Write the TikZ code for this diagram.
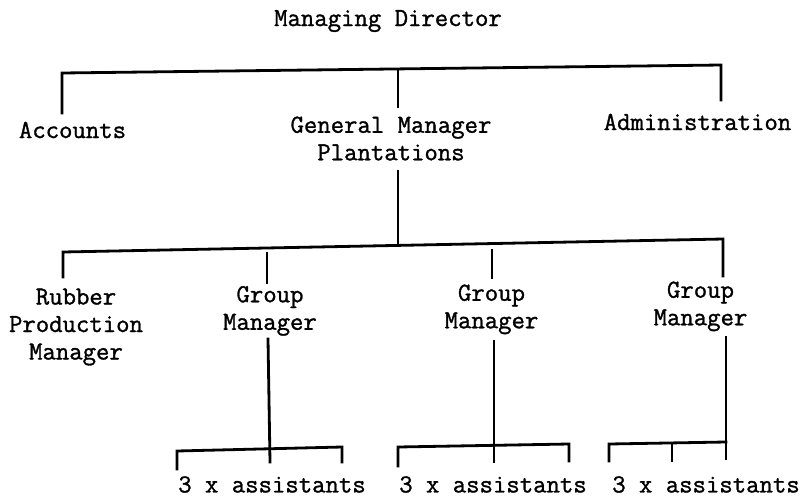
\documentclass[tikz,border=0pt]{standalone}
\usepackage{fontspec}
\newfontfamily\typewr{Latin Modern Mono}[FakeBold=1.2]
\begin{document}
\begin{tikzpicture}[x=1pt,y=-1pt,
  lbl/.style={inner sep=0pt, align=center, font=\typewr\bfseries\fontsize{26}{27.5}\selectfont},
  wire/.style={line width=2.8pt, line cap=rect, line join=miter}]
\useasboundingbox (0,0) rectangle (806,499);

% --- posts ---
\node[lbl] (md)  at (388,20.5)  {Managing Director\strut};
\node[lbl] (acc) at (72.5,132.5) {Accounts\strut};
\node[lbl] (gmp) at (391,141)   {General Manager\strut\\Plantations\strut};
\node[lbl] (adm) at (697.5,124.5) {Administration\strut};
\node[lbl] (rpm) at (76,326.5)  {Rubber\strut\\Production\strut\\Manager\strut};
\node[lbl] (gm1) at (270,310.5) {Group\strut\\Manager\strut};
\node[lbl] (gm2) at (491.5,309) {Group\strut\\Manager\strut};
\node[lbl] (gm3) at (700.5,306) {Group\strut\\Manager\strut};
\node[lbl] (as1) at (272,484.5) {3 x assistants};
\node[lbl] (as2) at (493,484.5) {3 x assistants};
\node[lbl] (as3) at (706,484.5) {3 x assistants};

% --- first level bar ---
\coordinate (ba) at (62,73);   \coordinate (bm) at (398,69);  \coordinate (bc) at (721,65);
\coordinate (accTop) at (62,113); \coordinate (gmpTop) at (398,107); \coordinate (admTop) at (721,100);
\draw[wire] (accTop) -- (ba) -- (bc) -- (admTop);
\draw[wire] (bm) -- (gmpTop);

% --- second level bar ---
\coordinate (gmpFoot) at (398,171); \coordinate (cm) at (398,245.5);
\coordinate (ca) at (63,252);  \coordinate (cd) at (723,239);
\coordinate (rpmTop) at (63,277);
\coordinate (g1a) at (267,253); \coordinate (g1b) at (267,283);
\coordinate (g2a) at (492,250); \coordinate (g2b) at (492,278);
\coordinate (g3Top) at (723,276);
\draw[wire] (gmpFoot) -- (cm);
\draw[wire] (rpmTop) -- (ca) -- (cd) -- (g3Top);
\draw[wire] (g1a) -- (g1b);
\draw[wire] (g2a) -- (g2b);

% --- assistants brackets ---
\coordinate (g1c) at (268,339); \coordinate (g1d) at (270,462);
\coordinate (k1a) at (177,469); \coordinate (k1b) at (177,451);
\coordinate (k1c) at (342,447); \coordinate (k1d) at (342,462);
\draw[wire] (g1c) -- (g1d);
\draw[wire] (k1a) -- (k1b) -- (k1c) -- (k1d);

\coordinate (g2c) at (494,341); \coordinate (g2d) at (494,462);
\coordinate (k2a) at (398,466); \coordinate (k2b) at (398,447);
\coordinate (k2c) at (569,444); \coordinate (k2d) at (569,461);
\draw[wire] (g2c) -- (g2d);
\draw[wire] (k2a) -- (k2b) -- (k2c) -- (k2d);

\coordinate (g3c) at (726,337); \coordinate (g3d) at (726,459);
\coordinate (k3a) at (609,461); \coordinate (k3b) at (609,444);
\coordinate (k3c) at (726,442);
\coordinate (k3m) at (672,443); \coordinate (k3n) at (672,461);
\draw[wire] (g3c) -- (g3d);
\draw[wire] (k3a) -- (k3b) -- (k3c);
\draw[wire] (k3m) -- (k3n);
\end{tikzpicture}
\end{document}
